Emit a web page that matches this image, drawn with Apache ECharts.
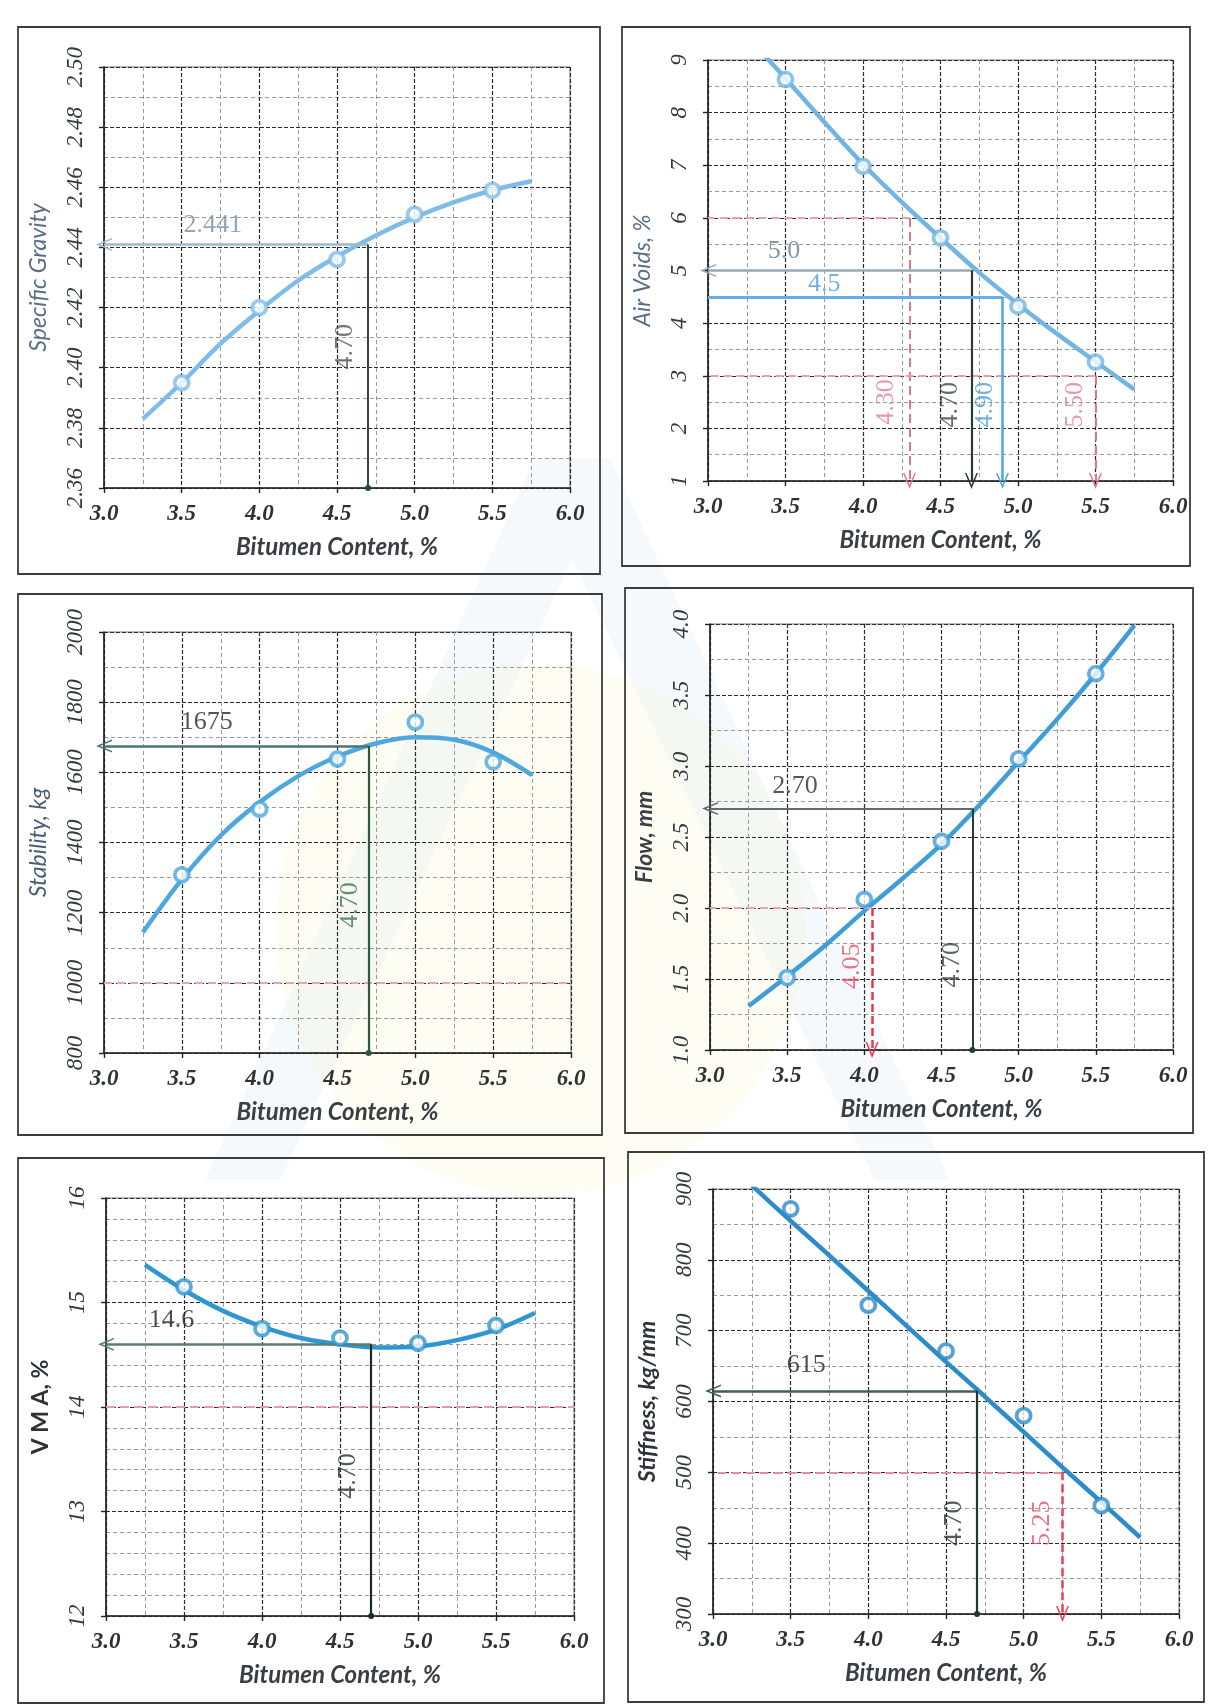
<!DOCTYPE html>
<html><head><meta charset="utf-8">
<script src="https://cdn.jsdelivr.net/npm/echarts@6/dist/echarts.min.js"></script>
<style>html,body{margin:0;padding:0;background:#fff}#c{width:1208px;height:1708px}</style>
</head><body><div id="c"></div>
<script>
// ---------- data ----------
const bitumenTicks = ['3.0','3.5','4.0','4.5','5.0','5.5','6.0'];
const bitumen = [3.5, 4.0, 4.5, 5.0, 5.5];
const fitBitumen = [3.25, 3.5, 3.75, 4.0, 4.25, 4.5, 4.75, 5.0, 5.25, 5.5, 5.75];

const gravityPts = [2.395, 2.420, 2.436, 2.451, 2.459];
const gravityFit = [2.383, 2.395, 2.408, 2.419, 2.429, 2.437, 2.444, 2.450, 2.455, 2.459, 2.462];
const voidsPts = [8.63, 6.98, 5.62, 4.32, 3.26];
const voidsFit = [9.45, 8.65, 7.82, 7.02, 6.30, 5.62, 4.96, 4.36, 3.80, 3.27, 2.74];
const stabilityPts = [1308, 1495, 1638, 1743, 1630];
const stabilityFit = [1144, 1295, 1420, 1515, 1590, 1645, 1683, 1700, 1693, 1657, 1592];
const flowPts = [1.51, 2.06, 2.47, 3.05, 3.65];
const flowFit = [1.31, 1.52, 1.74, 1.98, 2.21, 2.45, 2.73, 3.03, 3.33, 3.65, 3.99];
const vmaPts = [15.15, 14.75, 14.66, 14.61, 14.78];
const vmaFit = [15.36, 15.12, 14.92, 14.77, 14.66, 14.60, 14.57, 14.58, 14.64, 14.74, 14.90];
const stiffnessPts = [872, 736, 671, 580, 453];
const stiffnessFit = [905, 855, 806, 756, 706, 656, 607, 557, 507, 458, 408];

const optimumBC = 4.70;
const gravityAtOpt = 2.441;
const voidsAtOpt = 5.0;
const voidsTarget = 4.5;
const voidsTargetBC = 4.90;
const voidsLimits = [6.0, 3.0];
const voidsLimitBC = [4.30, 5.50];
const stabilityAtOpt = 1675;
const stabilityMin = 1000;
const flowAtOpt = 2.70;
const flowMin = 2.0;
const flowMinBC = 4.05;
const vmaAtOpt = 14.6;
const vmaMin = 14;
const stiffnessAtOpt = 615;
const stiffnessMin = 500;
const stiffnessMinBC = 5.25;

// ---------- styling / layout ----------
const chevron = 'path://M0,12 L6,0 L12,12 L10.6,12 L6,3.2 L1.4,12 Z';
const serif = 'Liberation Serif';
const sans = 'Lato';

const panels = [
  {grid:{left:104, top:67, width:466, height:421}, min:2.36, max:2.50, interval:0.02, minor:2, dec:2,
   name:'Specific Gravity', nameStyle:{fontStyle:'italic', fontWeight:'normal', color:'#5a6d85'},
   color:'#7fbde8', pts:gravityPts, fit:gravityFit, frame:[18,27,582,547]},
  {grid:{left:708, top:60, width:465, height:421}, min:1, max:9, interval:1, minor:2, dec:0,
   name:'Air Voids, %', nameStyle:{fontStyle:'italic', fontWeight:'normal', color:'#5a6d85'},
   color:'#72b5e4', pts:voidsPts, fit:voidsFit, frame:[622,27,568,539]},
  {grid:{left:104, top:632, width:467, height:421}, min:800, max:2000, interval:200, minor:2, dec:0,
   name:'Stability, kg', nameStyle:{fontStyle:'italic', fontWeight:'normal', color:'#4b5d75'},
   color:'#4ea7de', pts:stabilityPts, fit:stabilityFit, frame:[18,594,584,541]},
  {grid:{left:710, top:624, width:463, height:426}, min:1.0, max:4.0, interval:0.5, minor:2, dec:1,
   name:'Flow, mm', nameStyle:{fontStyle:'italic', fontWeight:'bold', color:'#3a3f45'},
   color:'#3f9dd8', pts:flowPts, fit:flowFit, frame:[625,588,568,545]},
  {grid:{left:106, top:1198, width:468, height:418}, min:12, max:16, interval:1, minor:5, dec:0,
   name:'V M A, %', nameStyle:{fontStyle:'normal', fontWeight:'bold', color:'#2f3338'},
   color:'#2f96d1', pts:vmaPts, fit:vmaFit, frame:[18,1158,586,545]},
  {grid:{left:713, top:1189, width:466, height:425}, min:300, max:900, interval:100, minor:2, dec:0,
   name:'Stiffness, kg/mm', nameStyle:{fontStyle:'italic', fontWeight:'bold', color:'#2f3338'},
   color:'#2b8cc9', pts:stiffnessPts, fit:stiffnessFit, frame:[628,1152,576,550]}
];

function seg(p1, p2, style, s1, s2) {
  const a = {coord:p1, lineStyle:style, symbol:'none'};
  const b = {coord:p2, symbol:'none'};
  if (s1) { a.symbol = s1.symbol; a.symbolSize = s1.size; }
  if (s2) { b.symbol = s2.symbol; b.symbolSize = s2.size; }
  return [a, b];
}
const arrowEnd = {symbol:chevron, size:[13,16]};
const dotEnd = {symbol:'circle', size:6};

const annotations = [
  { lines:[
      seg([optimumBC, gravityAtOpt], [3.0, gravityAtOpt], {color:'#9bb9cf', width:2.5, type:'solid'}, null, arrowEnd),
      seg([optimumBC, 2.36], [optimumBC, gravityAtOpt], {color:'#2f4a3c', width:2, type:'solid'}, dotEnd, null)
    ],
    labels:[
      {v:[3.70, 2.4475], t:gravityAtOpt.toFixed(3), c:'#7d8e9c', r:0},
      {v:[4.55, 2.407], t:optimumBC.toFixed(2), c:'#4d5357', r:90}
    ]},
  { lines:[
      seg([voidsLimitBC[0], voidsLimits[0]], [3.0, voidsLimits[0]], {color:'#eaa0ae', width:1.8, type:[8,5]}),
      seg([voidsLimitBC[0], voidsLimits[0]], [voidsLimitBC[0], 1], {color:'#d9798b', width:2, type:[9,5]}, null, arrowEnd),
      seg([voidsLimitBC[1], voidsLimits[1]], [3.0, voidsLimits[1]], {color:'#eaa0ae', width:1.8, type:[8,5]}),
      seg([voidsLimitBC[1], voidsLimits[1]], [voidsLimitBC[1], 1], {color:'#d9798b', width:2, type:[9,5]}, null, arrowEnd),
      seg([optimumBC, voidsAtOpt], [3.0, voidsAtOpt], {color:'#9aa8b2', width:2.5, type:'solid'}, null, arrowEnd),
      seg([optimumBC, voidsAtOpt], [optimumBC, 1], {color:'#2b3a33', width:2.2, type:'solid'}, null, arrowEnd),
      seg([voidsTargetBC, voidsTarget], [3.0, voidsTarget], {color:'#64b0e2', width:2.8, type:'solid'}),
      seg([voidsTargetBC, voidsTarget], [voidsTargetBC, 1], {color:'#4ea7e0', width:2.5, type:'solid'}, null, arrowEnd)
    ],
    labels:[
      {v:[3.49, 5.36], t:voidsAtOpt.toFixed(1), c:'#6f7b84', r:0},
      {v:[3.75, 4.74], t:voidsTarget.toFixed(1), c:'#4e9fd8', r:0},
      {v:[4.15, 2.5], t:voidsLimitBC[0].toFixed(2), c:'#e07f93', r:90},
      {v:[4.56, 2.45], t:optimumBC.toFixed(2), c:'#41464a', r:90},
      {v:[4.79, 2.45], t:voidsTargetBC.toFixed(2), c:'#4e9fd8', r:90},
      {v:[5.37, 2.45], t:voidsLimitBC[1].toFixed(2), c:'#e07f93', r:90}
    ]},
  { lines:[
      seg([3.0, stabilityMin], [6.0, stabilityMin], {color:'#eba3ad', width:1.8, type:[8,5]}),
      seg([optimumBC, stabilityAtOpt], [3.0, stabilityAtOpt], {color:'#4f7373', width:2.5, type:'solid'}, null, arrowEnd),
      seg([optimumBC, 800], [optimumBC, stabilityAtOpt], {color:'#2d5a3a', width:2.2, type:'solid'}, dotEnd, null)
    ],
    labels:[
      {v:[3.66, 1742], t:String(stabilityAtOpt), c:'#25292c', r:0},
      {v:[4.58, 1222], t:optimumBC.toFixed(2), c:'#42734b', r:90}
    ]},
  { lines:[
      seg([flowMinBC, flowMin], [3.0, flowMin], {color:'#eba3ad', width:1.8, type:[8,5]}),
      seg([flowMinBC, flowMin], [flowMinBC, 1.0], {color:'#e8394f', width:2.5, type:[8,4]}, null, arrowEnd),
      seg([optimumBC, flowAtOpt], [3.0, flowAtOpt], {color:'#5f6b70', width:2, type:'solid'}, null, arrowEnd),
      seg([optimumBC, 1.0], [optimumBC, flowAtOpt], {color:'#2c3a36', width:2, type:'solid'}, dotEnd, null)
    ],
    labels:[
      {v:[3.55, 2.86], t:flowAtOpt.toFixed(2), c:'#2b3034', r:0},
      {v:[3.92, 1.59], t:flowMinBC.toFixed(2), c:'#e54d63', r:90},
      {v:[4.57, 1.6], t:optimumBC.toFixed(2), c:'#373c40', r:90}
    ]},
  { lines:[
      seg([3.0, vmaMin], [6.0, vmaMin], {color:'#eb98a8', width:2, type:[9,5]}),
      seg([optimumBC, vmaAtOpt], [3.0, vmaAtOpt], {color:'#5d7d70', width:2.5, type:'solid'}, null, arrowEnd),
      seg([optimumBC, 12], [optimumBC, vmaAtOpt], {color:'#1e2a24', width:2.2, type:'solid'}, dotEnd, null)
    ],
    labels:[
      {v:[3.42, 14.83], t:vmaAtOpt.toFixed(1), c:'#1e2124', r:0},
      {v:[4.555, 13.34], t:optimumBC.toFixed(2), c:'#2a2e31', r:90}
    ]},
  { lines:[
      seg([stiffnessMinBC, stiffnessMin], [3.0, stiffnessMin], {color:'#eb8a9c', width:2, type:[9,5]}),
      seg([stiffnessMinBC, stiffnessMin], [stiffnessMinBC, 300], {color:'#e8405a', width:2.5, type:[8,4]}, null, arrowEnd),
      seg([optimumBC, stiffnessAtOpt], [3.0, stiffnessAtOpt], {color:'#3f5f57', width:2.5, type:'solid'}, null, arrowEnd),
      seg([optimumBC, 300], [optimumBC, stiffnessAtOpt], {color:'#1f3a2c', width:2.2, type:'solid'}, dotEnd, null)
    ],
    labels:[
      {v:[3.6, 651], t:String(stiffnessAtOpt), c:'#1e2124', r:0},
      {v:[4.55, 428], t:optimumBC.toFixed(2), c:'#2a2e31', r:90},
      {v:[5.12, 428], t:stiffnessMinBC.toFixed(2), c:'#e54a63', r:90}
    ]}
];

const grids = [], xAxes = [], yAxes = [], series = [];
const graphics = [
  // very faint scanned watermark behind the charts
  {type:'circle', shape:{cx:540, cy:930, r:265}, style:{fill:'#fbf7d6', opacity:0.3}, z:-20, silent:true},
  {type:'polygon', shape:{points:[[535,458],[610,458],[950,1180],[875,1180],[572,560],[280,1180],[205,1180]]},
   style:{fill:'#d7e3f3', opacity:0.22}, z:-19, silent:true}
];

panels.forEach((p, i) => {
  grids.push(Object.assign({show:true, borderColor:'#777', borderWidth:1, backgroundColor:'transparent'}, p.grid));
  xAxes.push({
    gridIndex:i, type:'value', min:3, max:6, interval:0.5,
    axisLine:{show:true, onZero:false, lineStyle:{color:'#222', width:1.6}},
    axisTick:{show:true, length:5, lineStyle:{color:'#222', width:1.4}},
    minorTick:{show:false, splitNumber:2},
    splitLine:{show:true, lineStyle:{color:'#2a2a2a', width:1.2, type:[4,2]}},
    minorSplitLine:{show:true, lineStyle:{color:'#9a9a9a', width:1, type:[4,3]}},
    axisLabel:{margin:15, fontFamily:serif, fontStyle:'italic', fontWeight:'bold', fontSize:23, color:'#2e3033',
      formatter:(v)=>bitumenTicks[Math.round((v-3)/0.5)]},
    name:'Bitumen Content, %', nameLocation:'middle', nameGap:47,
    nameTextStyle:{fontFamily:sans, fontStyle:'italic', fontWeight:'bold', fontSize:24, color:'#3a3d42'}
  });
  yAxes.push({
    gridIndex:i, type:'value', min:p.min, max:p.max, interval:p.interval,
    axisLine:{show:true, onZero:false, lineStyle:{color:'#222', width:1.6}},
    axisTick:{show:true, length:5, lineStyle:{color:'#222', width:1.4}},
    minorTick:{show:false, splitNumber:p.minor},
    splitLine:{show:true, lineStyle:{color:'#2a2a2a', width:1.2, type:[4,2]}},
    minorSplitLine:{show:true, lineStyle:{color:'#9a9a9a', width:1, type:[4,3]}},
    axisLabel:{rotate:90, margin:17, fontFamily:serif, fontStyle:'italic', fontSize:23, color:'#35383c',
      formatter:(v)=>v.toFixed(p.dec)},
    name:p.name, nameLocation:'middle', nameGap:54, nameRotate:90,
    nameTextStyle:Object.assign({fontFamily:sans, fontSize:23}, p.nameStyle)
  });
  const ann = annotations[i];
  series.push({
    type:'line', xAxisIndex:i, yAxisIndex:i, smooth:0.35, showSymbol:false, clip:true,
    data: fitBitumen.map((x, k)=>[x, p.fit[k]]),
    lineStyle:{color:p.color, width:4.5}, z:4, silent:true, animation:false,
    markLine:{silent:true, animation:false, symbol:['none','none'], label:{show:false},
      emphasis:{disabled:true}, data:ann.lines}
  });
  series.push({
    type:'scatter', xAxisIndex:i, yAxisIndex:i, symbol:'circle', symbolSize:14,
    data: bitumen.map((x, k)=>[x, p.pts[k]]),
    itemStyle:{color:'#ffffff', borderColor:p.color, borderWidth:3.8}, z:6, silent:true, animation:false
  });
  series.push({
    type:'scatter', xAxisIndex:i, yAxisIndex:i, symbolSize:0, silent:true, animation:false, z:7,
    data: ann.labels.map(l=>({value:l.v, label:{formatter:l.t, color:l.c, rotate:l.r}})),
    label:{show:true, position:'inside', fontFamily:serif, fontSize:26}
  });
  graphics.push({type:'rect', shape:{x:p.frame[0], y:p.frame[1], width:p.frame[2], height:p.frame[3]},
    style:{fill:'none', stroke:'#3c3c3c', lineWidth:1.8}, z:10, silent:true});
});

const chart = echarts.init(document.getElementById('c'), null, {renderer:'canvas'});
chart.setOption({
  backgroundColor:'#ffffff',
  animation:false,
  grid:grids, xAxis:xAxes, yAxis:yAxes, series:series, graphic:graphics
});
</script>
</body></html>
